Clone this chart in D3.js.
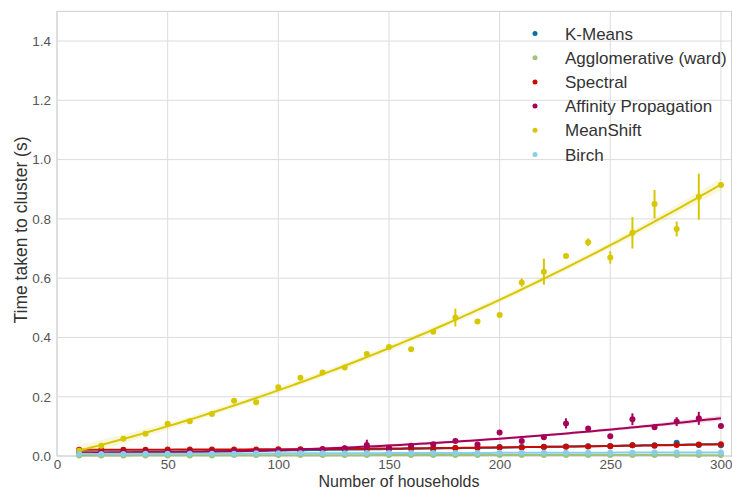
<!DOCTYPE html>
<html>
<head>
<meta charset="utf-8">
<script src="https://cdn.jsdelivr.net/npm/d3@7"></script>
<style>
  html, body { margin: 0; padding: 0; background: #fff; }
  svg { display: block; font-family: "Liberation Sans", Arial, sans-serif; }
</style>
</head>
<body>
<svg id="chart" width="732" height="490"></svg>
<script>
// Number of households in each timing run
const households = [10, 20, 30, 40, 50, 60, 70, 80, 90, 100, 110, 120, 130, 140, 150,
                    160, 170, 180, 190, 200, 210, 220, 230, 240, 250, 260, 270, 280, 290, 300];

// Mean clustering time (s) per algorithm
const kMeans = [0.012, 0.013, 0.013, 0.014, 0.014, 0.015, 0.015, 0.016, 0.017, 0.018, 0.019, 0.020, 0.021, 0.023, 0.024,
                0.025, 0.022, 0.027, 0.028, 0.030, 0.030, 0.031, 0.032, 0.033, 0.034, 0.036, 0.036, 0.045, 0.037, 0.036];
const agglomerative = [0.002, 0.002, 0.002, 0.002, 0.002, 0.002, 0.002, 0.003, 0.003, 0.003, 0.003, 0.003, 0.003, 0.003, 0.003,
                       0.003, 0.003, 0.003, 0.003, 0.003, 0.003, 0.003, 0.003, 0.003, 0.003, 0.003, 0.003, 0.003, 0.003, 0.003];
const spectral = [0.021, 0.021, 0.021, 0.021, 0.022, 0.022, 0.022, 0.022, 0.022, 0.023, 0.023, 0.024, 0.025, 0.025, 0.026,
                  0.026, 0.027, 0.027, 0.028, 0.029, 0.029, 0.030, 0.031, 0.032, 0.033, 0.036, 0.035, 0.037, 0.039, 0.040];
const affinity = [0.015, 0.012, 0.013, 0.013, 0.013, 0.014, 0.014, 0.015, 0.016, 0.018, 0.019, 0.022, 0.026, 0.037, 0.026,
                  0.035, 0.040, 0.051, 0.039, 0.079, 0.051, 0.063, 0.110, 0.093, 0.067, 0.124, 0.097, 0.116, 0.127, 0.101];
const meanShift = [0.018, 0.035, 0.058, 0.075, 0.109, 0.117, 0.142, 0.186, 0.181, 0.232, 0.264, 0.282, 0.299, 0.344, 0.368,
                   0.360, 0.419, 0.467, 0.454, 0.476, 0.585, 0.622, 0.675, 0.721, 0.670, 0.753, 0.850, 0.766, 0.875, 0.914];
const birch = [0.007, 0.007, 0.007, 0.008, 0.008, 0.008, 0.008, 0.008, 0.009, 0.009, 0.009, 0.009, 0.009, 0.010, 0.010,
               0.010, 0.010, 0.010, 0.010, 0.011, 0.011, 0.011, 0.011, 0.011, 0.011, 0.011, 0.012, 0.012, 0.012, 0.012];

// Half-width of the 95% interval around each mean
const affinityErr = [0, 0, 0, 0, 0, 0, 0, 0, 0, 0, 0, 0, 0.003, 0.018, 0.003,
                     0.003, 0.004, 0.003, 0.004, 0.003, 0.003, 0.004, 0.017, 0.005, 0.003, 0.020, 0.004, 0.015, 0.022, 0.003];
const meanShiftErr = [0, 0, 0, 0, 0, 0, 0, 0, 0, 0, 0, 0, 0, 0, 0,
                      0, 0.005, 0.030, 0, 0.004, 0.014, 0.044, 0.006, 0.013, 0.021, 0.053, 0.048, 0.025, 0.078, 0.008];

const seriesNames = ["K-Means", "Agglomerative (ward)", "Spectral", "Affinity Propagation", "MeanShift", "Birch"];
const seriesValues = [kMeans, agglomerative, spectral, affinity, meanShift, birch];
const seriesErrors = [null, null, null, affinityErr, meanShiftErr, null];
const seriesColors = ["#0272a2", "#9fc377", "#ca0b03", "#a50258", "#d7c703", "#88cee6"];

const xTicks = [0, 50, 100, 150, 200, 250, 300];
const yTicks = [0.0, 0.2, 0.4, 0.6, 0.8, 1.0, 1.2, 1.4];

const svg = d3.select("#chart");
const x = d3.scaleLinear().domain([0, 305]).range([57, 732]);
const y = d3.scaleLinear().domain([0, 1.5]).range([456, 11.4]);

// Grid
const grid = svg.append("g");
grid.selectAll("line.gx").data(xTicks).join("line")
  .attr("x1", d => x(d)).attr("x2", d => x(d))
  .attr("y1", y(1.5)).attr("y2", y(0))
  .attr("stroke", "#dcdcdc").attr("stroke-width", 1);
grid.selectAll("line.gy").data(yTicks).join("line")
  .attr("x1", x(0)).attr("x2", x(305))
  .attr("y1", d => y(d)).attr("y2", d => y(d))
  .attr("stroke", "#dcdcdc").attr("stroke-width", 1);
svg.append("rect")
  .attr("x", x(0)).attr("y", y(1.5))
  .attr("width", x(305) - x(0) - 0.5).attr("height", y(0) - y(1.5))
  .attr("fill", "none").attr("stroke", "#d0d0d0").attr("stroke-width", 1);

// Axes (labels only, no tick marks)
const xAxis = svg.append("g").attr("transform", `translate(0,${y(0)})`)
  .call(d3.axisBottom(x).tickValues(xTicks).tickFormat(d3.format("d")).tickSize(0).tickPadding(3));
const yAxis = svg.append("g").attr("transform", `translate(${x(0)},0)`)
  .call(d3.axisLeft(y).tickValues(yTicks).tickFormat(d3.format(".1f")).tickSize(0).tickPadding(6));
[xAxis, yAxis].forEach(g => {
  g.select(".domain").remove();
  g.selectAll("text").attr("font-size", 13.5).attr("fill", "#555")
    .attr("font-family", "'Liberation Sans', Arial, sans-serif");
});
xAxis.selectAll("text").filter(d => d === 300).attr("text-anchor", "end").attr("dx", 11);

svg.append("text").attr("x", 399).attr("y", 486.8)
  .attr("text-anchor", "middle").attr("font-size", 16).attr("fill", "#333")
  .text("Number of households");
svg.append("text").attr("transform", `translate(27,230) rotate(-90)`)
  .attr("text-anchor", "middle").attr("font-size", 17.5).attr("fill", "#333")
  .text("Time taken to cluster (s)");

// Second-order least-squares fit with a 95% band
function inv3(m) {
  const [a, b, c] = m[0], [d, e, f] = m[1], [g, h, i] = m[2];
  const A = e * i - f * h, B = -(d * i - f * g), C = d * h - e * g;
  const det = a * A + b * B + c * C;
  return [
    [A / det, -(b * i - c * h) / det, (b * f - c * e) / det],
    [B / det, (a * i - c * g) / det, -(a * f - c * d) / det],
    [C / det, -(a * h - b * g) / det, (a * e - b * d) / det]
  ];
}
function quadFit(xs, ys) {
  const S = [[0, 0, 0], [0, 0, 0], [0, 0, 0]], v = [0, 0, 0];
  xs.forEach((xv, k) => {
    const t = xv / 100, r = [1, t, t * t];
    for (let a = 0; a < 3; a++) {
      v[a] += r[a] * ys[k];
      for (let c = 0; c < 3; c++) S[a][c] += r[a] * r[c];
    }
  });
  const Si = inv3(S);
  const coef = Si.map(row => row[0] * v[0] + row[1] * v[1] + row[2] * v[2]);
  const pred = xv => { const t = xv / 100; return coef[0] + coef[1] * t + coef[2] * t * t; };
  let ss = 0;
  xs.forEach((xv, k) => { ss += (ys[k] - pred(xv)) ** 2; });
  const s2 = ss / (xs.length - 3);
  const se = xv => {
    const t = xv / 100, r = [1, t, t * t];
    let q = 0;
    for (let a = 0; a < 3; a++) for (let c = 0; c < 3; c++) q += r[a] * Si[a][c] * r[c];
    return Math.sqrt(s2 * q);
  };
  return { pred, se };
}

const xGrid = d3.range(0, 101).map(k => households[0] + (households[households.length - 1] - households[0]) * k / 100);
const area = d3.area().x(d => x(d.x)).y0(d => y(d.lo)).y1(d => y(d.hi));
const line = d3.line().x(d => x(d.x)).y(d => y(d.y));

seriesValues.forEach((vals, si) => {
  const col = seriesColors[si];
  const g = svg.append("g");
  const fit = quadFit(households, vals);
  const curve = xGrid.map(xv => {
    const p = fit.pred(xv), e = 1.96 * fit.se(xv) * 0.7;
    return { x: xv, y: p, lo: p - e, hi: p + e };
  });
  g.append("path").datum(curve).attr("d", area).attr("fill", col).attr("fill-opacity", 0.15);
  const errs = seriesErrors[si];
  if (errs) {
    g.selectAll("line.err").data(households.map((h, k) => ({ h, v: vals[k], e: errs[k] })).filter(d => d.e > 0))
      .join("line")
      .attr("x1", d => x(d.h)).attr("x2", d => x(d.h))
      .attr("y1", d => y(d.v - d.e)).attr("y2", d => y(d.v + d.e))
      .attr("stroke", col).attr("stroke-width", 2);
  }
  g.selectAll("circle").data(households.map((h, k) => ({ h, v: vals[k] })))
    .join("circle")
    .attr("cx", d => x(d.h)).attr("cy", d => y(d.v)).attr("r", 3)
    .attr("fill", col);
  g.append("path").datum(curve).attr("d", line)
    .attr("fill", "none").attr("stroke", col).attr("stroke-width", 2);
});

// Legend
const legend = svg.append("g");
seriesNames.forEach((name, k) => {
  const ly = 33.5 + k * 24.2;
  legend.append("circle").attr("cx", 535).attr("cy", ly).attr("r", 2.5).attr("fill", seriesColors[k]);
  legend.append("text").attr("x", 565).attr("y", ly + 6)
    .attr("font-size", 17).attr("fill", "#333").text(name);
});
</script>
</body>
</html>
